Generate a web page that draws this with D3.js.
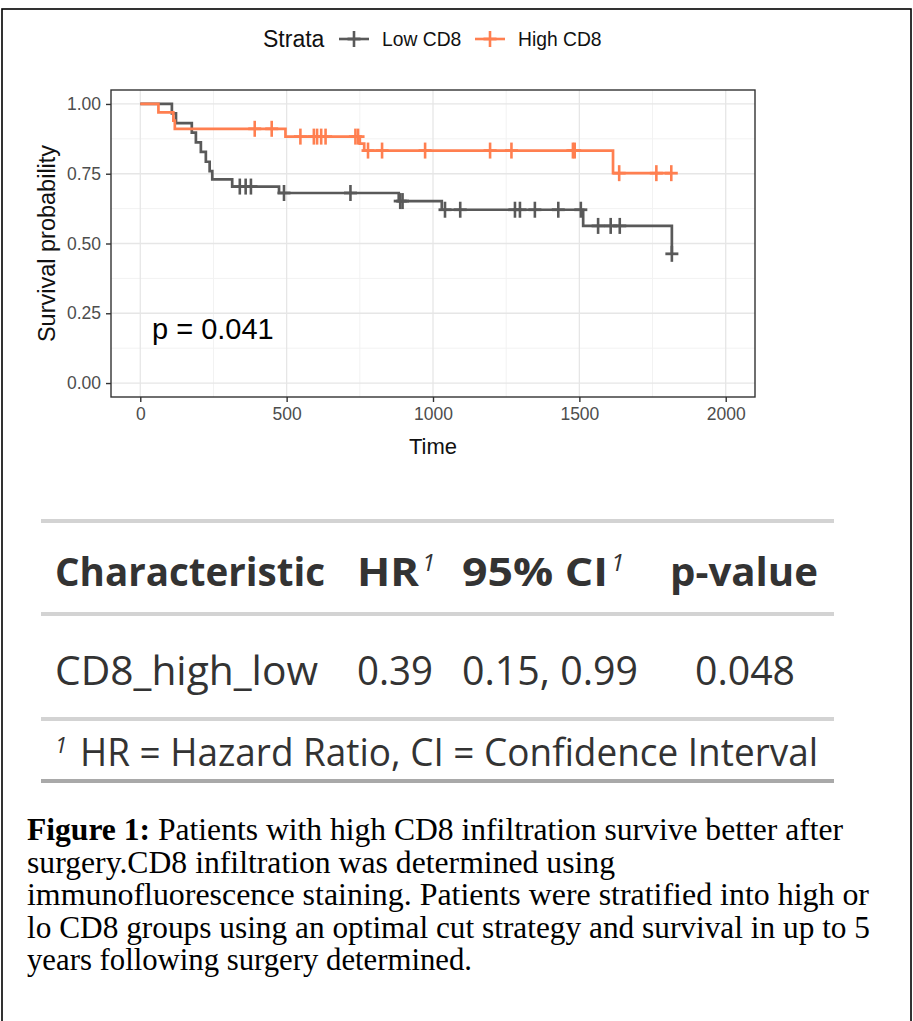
<!DOCTYPE html>
<html><head><meta charset="utf-8">
<script src="https://cdn.jsdelivr.net/npm/d3@7/dist/d3.min.js"></script>
<style>body{margin:0;background:#fff}svg{display:block}</style>
</head><body>
<svg id="c" width="913" height="1021"></svg>
<script>
// ---------- data ----------
const strata = ["Low CD8", "High CD8"];
const strataColors = ["#595959", "#ff7f50"];

const lowTimes = [0, 108, 122, 176, 190, 207, 224, 237, 246, 314, 474, 883, 1030, 1513, 1816];
const lowSurv  = [1, 0.966, 0.931, 0.897, 0.862, 0.828, 0.793, 0.759, 0.730, 0.704, 0.681, 0.652, 0.621, 0.563, 0.463];
const lowEnd = 1816;
const lowCensorTimes = [340, 360, 378, 491, 718, 888, 896, 1041, 1093, 1280, 1297, 1348, 1428, 1505, 1564, 1607, 1638, 1816];
const lowCensorSurv  = [0.704, 0.704, 0.704, 0.681, 0.681, 0.652, 0.652, 0.621, 0.621, 0.621, 0.621, 0.621, 0.621, 0.621, 0.563, 0.563, 0.563, 0.463];

const highTimes = [0, 62, 113, 118, 496, 750, 765, 1615];
const highSurv  = [1, 0.970, 0.940, 0.911, 0.883, 0.858, 0.833, 0.752];
const highEnd = 1814;
const highCensorTimes = [391, 449, 547, 593, 604, 618, 633, 735, 744, 778, 826, 973, 1195, 1268, 1478, 1484, 1636, 1763, 1814];
const highCensorSurv  = [0.911, 0.911, 0.883, 0.883, 0.883, 0.883, 0.883, 0.883, 0.883, 0.833, 0.833, 0.833, 0.833, 0.833, 0.833, 0.833, 0.752, 0.752, 0.752];

const xTicks = [0, 500, 1000, 1500, 2000];
const xMinor = [250, 750, 1250, 1750];
const yTicks = [0, 0.25, 0.5, 0.75, 1];
const yTickLabels = ["0.00", "0.25", "0.50", "0.75", "1.00"];
const yMinor = [0.125, 0.375, 0.625, 0.875];
const pText = "p = 0.041";

const tableHeader = ["Characteristic", "HR", "95% CI", "p-value"];
const headerHasNote = [false, true, true, false];
const tableRow = ["CD8_high_low", "0.39", "0.15, 0.99", "0.048"];
const footnote = "HR = Hazard Ratio, CI = Confidence Interval";
const captionBold = "Figure 1:";
const captionLines = [
  " Patients with high CD8 infiltration survive better after",
  "surgery.CD8 infiltration was determined using",
  "immunofluorescence staining. Patients were stratified into high or",
  "lo CD8 groups using an optimal cut strategy and survival in up to 5",
  "years following surgery determined."
];

// ---------- drawing ----------
const svg = d3.select("#c");
svg.append("rect").attr("x", 2).attr("y", 9).attr("width", 909).attr("height", 1030)
  .attr("fill", "none").attr("stroke", "#000").attr("stroke-width", 1.6);

const P = {l: 111, r: 755, t: 90, b: 397};
const x = d3.scaleLinear().domain([-100, 2100]).range([P.l, P.r]);
const y = d3.scaleLinear().domain([-0.05, 1.05]).range([P.b, P.t]);
const sans = "'Liberation Sans', Arial, sans-serif";

const g = svg.append("g");
// grid
g.selectAll(".xm").data(xMinor).join("line").attr("x1", d => x(d)).attr("x2", d => x(d))
  .attr("y1", P.t).attr("y2", P.b).attr("stroke", "#f2f2f2").attr("stroke-width", 1);
g.selectAll(".ym").data(yMinor).join("line").attr("y1", d => y(d)).attr("y2", d => y(d))
  .attr("x1", P.l).attr("x2", P.r).attr("stroke", "#f2f2f2").attr("stroke-width", 1);
g.selectAll(".xg").data(xTicks).join("line").attr("x1", d => x(d)).attr("x2", d => x(d))
  .attr("y1", P.t).attr("y2", P.b).attr("stroke", "#e6e6e6").attr("stroke-width", 1.3);
g.selectAll(".yg").data(yTicks).join("line").attr("y1", d => y(d)).attr("y2", d => y(d))
  .attr("x1", P.l).attr("x2", P.r).attr("stroke", "#e6e6e6").attr("stroke-width", 1.3);

// curves
const line = d3.line().x(d => x(d[0])).y(d => y(d[1])).curve(d3.curveStepAfter);
const groups = [
  {times: lowTimes, surv: lowSurv, end: lowEnd, ct: lowCensorTimes, cs: lowCensorSurv, color: strataColors[0]},
  {times: highTimes, surv: highSurv, end: highEnd, ct: highCensorTimes, cs: highCensorSurv, color: strataColors[1]}
];
function cross(sel, cx, cy, color) {
  sel.append("line").attr("x1", cx - 6.5).attr("x2", cx + 6.5).attr("y1", cy).attr("y2", cy)
    .attr("stroke", color).attr("stroke-width", 2.8);
  sel.append("line").attr("x1", cx).attr("x2", cx).attr("y1", cy - 8).attr("y2", cy + 8)
    .attr("stroke", color).attr("stroke-width", 2.6);
}
groups.forEach(gr => {
  const pts = gr.times.map((t, i) => [t, gr.surv[i]]);
  pts.push([gr.end, gr.surv[gr.surv.length - 1]]);
  g.append("path").attr("d", line(pts)).attr("fill", "none").attr("stroke", gr.color)
    .attr("stroke-width", 2.7);
  const cg = g.append("g");
  gr.ct.forEach((t, i) => cross(cg, x(t), y(gr.cs[i]), gr.color));
});

// panel border
g.append("rect").attr("x", P.l).attr("y", P.t).attr("width", P.r - P.l).attr("height", P.b - P.t)
  .attr("fill", "none").attr("stroke", "#333").attr("stroke-width", 1.4);

// axes
const xAxis = g.append("g").attr("transform", `translate(0,${P.b})`)
  .call(d3.axisBottom(x).tickValues(xTicks).tickSize(5).tickPadding(6).tickFormat(d3.format("d")));
const yAxis = g.append("g").attr("transform", `translate(${P.l},0)`)
  .call(d3.axisLeft(y).tickValues(yTicks).tickSize(5).tickPadding(5).tickFormat((d, i) => yTickLabels[i]));
[xAxis, yAxis].forEach(a => {
  a.select(".domain").remove();
  a.selectAll(".tick line").attr("stroke", "#333").attr("stroke-width", 1.4);
  a.selectAll("text").attr("fill", "#4d4d4d").style("font-family", sans).style("font-size", "17.5px");
});

svg.append("text").attr("x", (x(0) + x(2000)) / 2).attr("y", 454).attr("text-anchor", "middle")
  .style("font-family", sans).style("font-size", "22px").attr("fill", "#111").text("Time");
svg.append("text").attr("transform", `translate(55,${(y(0) + y(1)) / 2}) rotate(-90)`)
  .attr("text-anchor", "middle").style("font-family", sans).style("font-size", "23.5px")
  .attr("fill", "#111").text("Survival probability");

svg.append("text").attr("x", x(40)).attr("y", 339).style("font-family", sans).style("font-size", "29px")
  .attr("fill", "#000").text(pText);

// legend
const lg = svg.append("g");
lg.append("text").attr("x", 263).attr("y", 47).style("font-family", sans).style("font-size", "23px")
  .attr("fill", "#111").text("Strata");
const legendX = [[339, 382], [475, 518]];
strata.forEach((s, i) => {
  const [kx, tx] = legendX[i];
  lg.append("line").attr("x1", kx).attr("x2", kx + 30).attr("y1", 39).attr("y2", 39)
    .attr("stroke", strataColors[i]).attr("stroke-width", 2.6);
  cross(lg, kx + 15, 39, strataColors[i]);
  lg.append("text").attr("x", tx).attr("y", 46).style("font-family", sans).style("font-size", "19.3px")
    .attr("fill", "#111").text(s);
});

// ---------- table ----------
const tf = "'Open Sans', 'Noto Sans', sans-serif";
const T = svg.append("g");
const rules = [[521, "#d3d3d3"], [614, "#d3d3d3"], [719, "#d3d3d3"], [781, "#a9a9a9"]];
rules.forEach(([ry, c]) => T.append("rect").attr("x", 41).attr("y", ry - 2).attr("width", 793)
  .attr("height", 4).attr("fill", c));
const colX = [55, 357, 462, 670];
const headerW = [270, 62, 146, 148];
tableHeader.forEach((h, i) => {
  const t = T.append("text").attr("x", colX[i]).attr("y", 586).style("font-family", tf)
    .style("font-weight", "bold").style("font-size", "40px").attr("fill", "#333");
  t.append("tspan").attr("textLength", headerW[i]).attr("lengthAdjust", "spacingAndGlyphs").text(h);
  if (headerHasNote[i]) t.append("tspan").attr("dx", 3).attr("dy", -15).style("font-size", "24px")
    .style("font-weight", "normal").style("font-style", "italic").text("1");
});
const rowX = [55, 357, 462, 695];
const rowW = [263, 76, 176, 100];
tableRow.forEach((v, i) => {
  T.append("text").attr("x", rowX[i]).attr("y", 685).attr("textLength", rowW[i])
    .attr("lengthAdjust", "spacingAndGlyphs").style("font-family", tf).style("font-size", "40px")
    .attr("fill", "#333").text(v);
});
const fn = T.append("text").attr("x", 55).attr("y", 766).style("font-family", tf)
  .style("font-size", "39px").attr("fill", "#333");
fn.append("tspan").attr("dy", -13).style("font-size", "22px").style("font-style", "italic").text("1");
fn.append("tspan").attr("x", 80).attr("dy", 13).attr("textLength", 738)
  .attr("lengthAdjust", "spacingAndGlyphs").text(footnote);

// ---------- caption ----------
const serif = "'Liberation Serif', 'Times New Roman', serif";
const cap = svg.append("g");
const capW = [816, 588, 842, 843, 445];
captionLines.forEach((l, i) => {
  const t = cap.append("text").attr("x", 27).attr("y", 840 + i * 32.6)
    .attr("textLength", capW[i]).attr("lengthAdjust", "spacingAndGlyphs")
    .style("font-family", serif).style("font-size", "31.5px").attr("fill", "#000");
  if (i === 0) t.append("tspan").style("font-weight", "bold").text(captionBold);
  t.append("tspan").text(l);
});
</script>
</body></html>
